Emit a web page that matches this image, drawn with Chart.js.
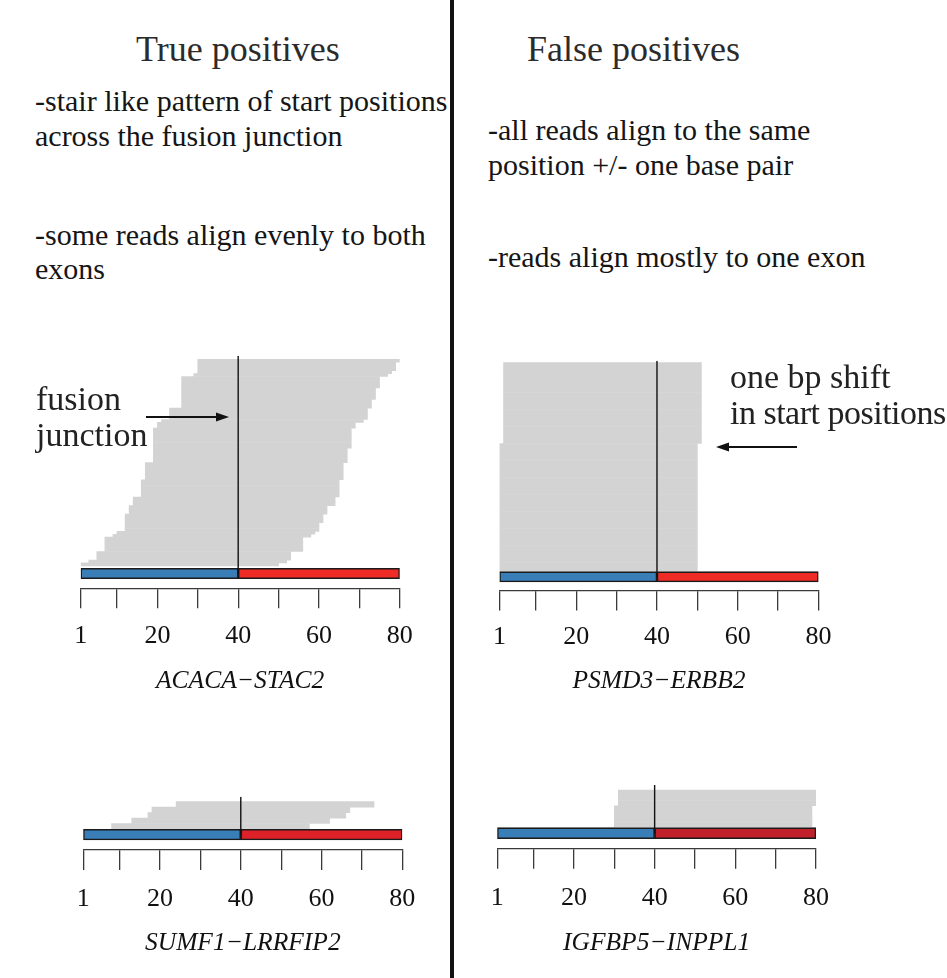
<!DOCTYPE html>
<html>
<head>
<meta charset="utf-8">
<title>Fusion junction read patterns</title>
<script src="https://cdn.jsdelivr.net/npm/chart.js"></script>
<style>
  html, body { margin: 0; padding: 0; background: #fff; }
  body { position: relative; width: 947px; height: 978px; overflow: hidden;
         font-family: "Liberation Serif", "Times New Roman", serif; }
  .t { position: absolute; white-space: nowrap; line-height: 1; color: #151515; z-index: 3; }
  .h { font-size: 36px; color: #2b2b2b; }
  .b { font-size: 30px; }
  .a { font-size: 34px; color: #222; }
  canvas { position: absolute; z-index: 1; }
  #divider { position: absolute; left: 450px; top: 0; width: 3.5px; height: 978px; background: #111; z-index: 2; }
  svg { position: absolute; left: 0; top: 0; z-index: 4; }
</style>
</head>
<body>

<div id="divider"></div>

<div class="t h" style="left:136px; top:31px;">True positives</div>
<div class="t h" style="left:527px; top:31px;">False positives</div>

<div class="t b" style="left:35px; top:86px;">-stair like pattern of start positions</div>
<div class="t b" style="left:35px; top:121px;">across the fusion junction</div>
<div class="t b" style="left:35px; top:220px;">-some reads align evenly to both</div>
<div class="t b" style="left:35px; top:254px;">exons</div>

<div class="t b" style="left:488px; top:115px;">-all reads align to the same</div>
<div class="t b" style="left:488px; top:150px;">position +/- one base pair</div>
<div class="t b" style="left:488px; top:242px;">-reads align mostly to one exon</div>

<div class="t a" style="left:36px; top:382px;">fusion</div>
<div class="t a" style="left:36px; top:418px;">junction</div>
<div class="t a" style="left:730px; top:360px;">one bp shift</div>
<div class="t a" style="left:730px; top:396px; letter-spacing:-0.5px;">in start positions</div>

<svg width="947" height="978">
  <line x1="146" y1="417" x2="218" y2="417" stroke="#111" stroke-width="2"/>
  <polygon points="229,417 216,412.5 216,421.5" fill="#111"/>
  <line x1="797" y1="447" x2="727" y2="447" stroke="#111" stroke-width="2"/>
  <polygon points="716,447 729,442.5 729,451.5" fill="#111"/>
</svg>

<script>
const FONT = "'Liberation Serif', 'Times New Roman', serif";

// Position axis shared by every fusion transcript
const tickValues = [1, 10, 20, 30, 40, 50, 60, 70, 80];
const labeledTicks = [1, 20, 40, 60, 80];
const exonBreaks = [1, 40, 80];   // 5' partner exon 1-40, 3' partner exon 40-80
const junctionPos = 40;

// Read start / end positions, listed from the bottom row upwards
const acacaStart = [1, 3, 5, 5, 5, 7, 7, 7, 7, 7, 9, 10, 12, 12, 12, 12, 12, 12,
  13, 13, 13, 14, 14, 14, 16, 16, 16, 16, 16, 16, 17, 17, 17, 17, 17, 17,
  19, 19, 19, 19, 19, 19, 19, 19, 19, 19, 19, 19, 20, 20, 21, 23, 23, 23, 23,
  26, 26, 26, 26, 26, 26, 26, 26, 26, 26, 26, 29, 30, 30, 30, 30, 30];
const acacaEnd = [50, 52, 53, 53, 53, 56, 56, 56, 56, 56, 58, 59, 60, 60, 60, 61, 61, 61,
  62, 62, 62, 64, 64, 64, 65, 65, 65, 65, 65, 65, 66, 66, 66, 66, 66, 66,
  67, 67, 67, 67, 67, 68, 68, 68, 68, 68, 68, 68, 69, 69, 71, 72, 72, 72, 72,
  73, 73, 73, 74, 74, 74, 74, 75, 75, 75, 75, 77, 78, 79, 79, 79, 80];

const psmdStart = [1, 1, 1, 1, 1, 1, 1, 1, 1, 1, 1, 1, 1, 1, 1, 1, 1, 1, 1, 1,
  1, 1, 1, 1, 1, 1, 1, 1, 1, 1,
  2, 2, 2, 2, 2, 2, 2, 2, 2, 2, 2, 2, 2, 2, 2, 2, 2, 2, 2];
const psmdEnd = [50, 50, 50, 50, 50, 50, 50, 50, 50, 50, 50, 50, 50, 50, 50, 50, 50, 50, 50, 50,
  50, 50, 50, 50, 50, 50, 50, 50, 50, 50,
  51, 51, 51, 51, 51, 51, 51, 51, 51, 51, 51, 51, 51, 51, 51, 51, 51, 51, 51];

const sumfStart = [8, 13, 17, 18, 24];
const sumfEnd = [57, 62, 66, 67, 73];

const igfStart = [30, 30, 30, 30, 31, 31, 31];
const igfEnd = [79, 79, 79, 79, 80, 80, 80];

const fusionNames = ['ACACA\u2212STAC2', 'PSMD3\u2212ERBB2', 'SUMF1\u2212LRRFIP2', 'IGFBP5\u2212INPPL1'];

const BLUE = '#3A7EB8';
const GREY = '#D3D3D3';
const LABEL_SIZE = 26;
const TITLE_SIZE = 25.5;
const TICK_LEN = 20;

// Page placement of each panel (pixels)
const panels = [
  { name: fusionNames[0], starts: acacaStart, ends: acacaEnd, red: '#EE2B25',
    box: { left: 80.7, right: 399.7, lineTop: 355.7, readsTop: 359.3, readsBottom: 565.8,
           exonTop: 568.3, exonBottom: 578.7, axisY: 588.3, labelY: 636, titleY: 681 } },
  { name: fusionNames[1], starts: psmdStart, ends: psmdEnd, red: '#EE2B25',
    box: { left: 499.5, right: 818.5, lineTop: 360.7, readsTop: 362.7, readsBottom: 571,
           exonTop: 571.7, exonBottom: 582, axisY: 590.5, labelY: 637, titleY: 681 } },
  { name: fusionNames[2], starts: sumfStart, ends: sumfEnd, red: '#DD2128',
    box: { left: 83.3, right: 402.3, lineTop: 796.7, readsTop: 801.7, readsBottom: 829,
           exonTop: 829.3, exonBottom: 840, axisY: 850, labelY: 899, titleY: 943 } },
  { name: fusionNames[3], starts: igfStart, ends: igfEnd, red: '#C0212A',
    box: { left: 497.3, right: 816, lineTop: 785, readsTop: 790, readsBottom: 826.7,
           exonTop: 827.7, exonBottom: 838.7, axisY: 848.7, labelY: 898.5, titleY: 943 } }
];

function buildPanel(p) {
  const b = p.box;
  const n = p.starts.length;
  const pitch = (b.readsBottom - b.readsTop) / n;
  // row i is centred on value i; value axis runs from the position axis up to the junction line top
  const yMin = -0.5 - (b.axisY - b.readsBottom) / pitch;
  const yMax = n - 0.5 + (b.readsTop - b.lineTop) / pitch;
  const yExon = -0.5 - ((b.exonTop + b.exonBottom) / 2 - b.readsBottom) / pitch;
  const axisH = b.titleY - b.axisY + TITLE_SIZE * 1.2 / 2;
  const tickPad = b.labelY - b.axisY - TICK_LEN - LABEL_SIZE * 1.2 / 2;

  const cLeft = Math.floor(b.left) - 40;
  const cTop = Math.floor(b.lineTop);
  const W = Math.ceil(b.right + 40) - cLeft;
  const H = Math.ceil(b.axisY + axisH) - cTop;

  const canvas = document.createElement('canvas');
  canvas.width = W;
  canvas.height = H;
  canvas.style.left = cLeft + 'px';
  canvas.style.top = cTop + 'px';
  canvas.style.width = W + 'px';
  canvas.style.height = H + 'px';
  document.body.appendChild(canvas);

  const reads = p.starts.map((s, i) => ({ x: [s, p.ends[i]], y: i }));

  new Chart(canvas, {
    type: 'bar',
    data: {
      datasets: [
        { type: 'line', label: 'junction',
          data: [{ x: junctionPos, y: yExon }, { x: junctionPos, y: yMax }],
          borderColor: '#111', borderWidth: 1.4, pointRadius: 0, order: 0 },
        { label: "5' exon", data: [{ x: [exonBreaks[0], exonBreaks[1]], y: yExon }],
          backgroundColor: BLUE, borderColor: '#1a1a1a', borderWidth: 1.6, borderSkipped: false,
          barThickness: b.exonBottom - b.exonTop, grouped: false, order: 1 },
        { label: "3' exon", data: [{ x: [exonBreaks[1], exonBreaks[2]], y: yExon }],
          backgroundColor: p.red, borderColor: '#1a1a1a', borderWidth: 1.6, borderSkipped: false,
          barThickness: b.exonBottom - b.exonTop, grouped: false, order: 1 },
        { label: 'reads', data: reads, backgroundColor: GREY, borderWidth: 0,
          barPercentage: 1, categoryPercentage: 1, grouped: false, order: 2 }
      ]
    },
    options: {
      indexAxis: 'y',
      responsive: false,
      maintainAspectRatio: false,
      devicePixelRatio: 1,
      animation: false,
      layout: { padding: { left: b.left - cLeft, right: cLeft + W - b.right,
                           top: b.lineTop - cTop, bottom: cTop + H - (b.axisY + axisH) } },
      plugins: { legend: { display: false }, tooltip: { enabled: false } },
      scales: {
        x: {
          type: 'linear', position: 'bottom', min: 1, max: 80,
          afterBuildTicks: s => { s.ticks = tickValues.map(v => ({ value: v })); },
          afterFit: s => { s.height = axisH; },
          ticks: {
            autoSkip: false, maxRotation: 0, padding: tickPad, color: '#111',
            font: { family: FONT, size: LABEL_SIZE },
            callback: v => labeledTicks.includes(v) ? String(v) : ''
          },
          grid: { display: true, drawOnChartArea: false, drawTicks: true,
                  tickLength: TICK_LEN, color: '#3a3a3a', lineWidth: 1.3 },
          border: { display: true, color: '#3a3a3a', width: 1.3 },
          title: { display: true, text: p.name, color: '#111', padding: 0,
                   font: { family: FONT, size: TITLE_SIZE, style: 'italic' } }
        },
        y: {
          type: 'linear', display: false, min: yMin, max: yMax, offset: false,
          afterBuildTicks: s => { s.ticks = [{ value: yMin }, { value: yMax }]; }
        }
      }
    }
  });
}

panels.forEach(buildPanel);
</script>
</body>
</html>
